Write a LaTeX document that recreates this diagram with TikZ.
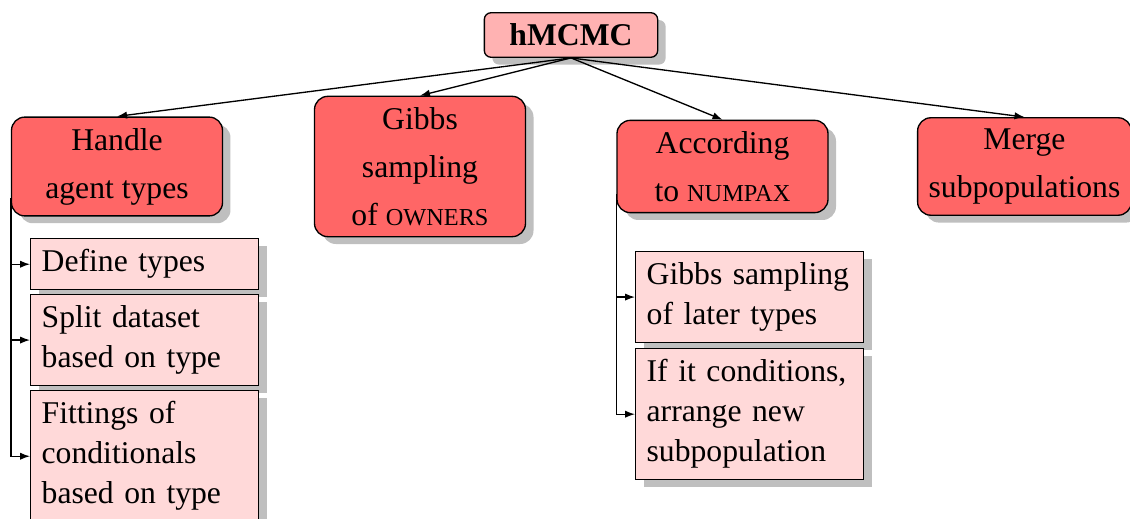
\documentclass[tikz,border=0pt]{standalone}
\usepackage{fontspec}
\setmainfont{Liberation Serif}
\usetikzlibrary{shadows}
\usetikzlibrary{arrows.meta}
\usetikzlibrary{calc,positioning}

\newcommand{\fakecaps}[1]{{\fontsize{7.3}{9}\selectfont #1}}

\begin{document}
\begin{tikzpicture}[x=0.3pt, y=-0.3pt, >={Latex[length=3pt,width=2.2pt]},
    boxshadow/.style={drop shadow={shadow xshift=2.4pt, shadow yshift=-2.2pt, fill=black!25, opacity=1}},
    rootbox/.style={draw, fill=red!30, rounded corners=2pt, boxshadow,
        minimum width=52pt, minimum height=13.2pt, font=\fontsize{9.5}{12}\selectfont\bfseries},
    stagebox/.style={draw, fill=red!60, rounded corners=4pt, boxshadow, align=center,
        minimum width=63.3pt, inner sep=3.3pt, font=\fontsize{9.5}{14.4}\selectfont},
    subbox/.style={draw, fill=red!15, boxshadow, anchor=north west, align=left,
        text width=61.8pt, inner sep=3.3pt, font=\fontsize{9.5}{12}\selectfont}]
    \useasboundingbox (0,0) rectangle (1130,519);

    \node[rootbox] (hmcmc) at (571,35) {hMCMC};

    \node[stagebox] (agents) at (117,166.5) {Handle\\agent types};
    \node[stagebox] (owners) at (420,166.5) {Gibbs\\sampling\\of \fakecaps{OWNERS}};
    \node[stagebox] (numpax) at (722.5,166.5) {According\\to \fakecaps{NUMPAX}};
    \node[stagebox] (merge) at (1024.5,166.5) {Merge\\subpopulations};

    \draw[->] (hmcmc.south) -- (agents.north);
    \draw[->] (hmcmc.south) -- (owners.north);
    \draw[->] (hmcmc.south) -- (numpax.north);
    \draw[->] (hmcmc.south) -- (merge.north);

    % sub-steps
    \node[subbox] (deftypes) at (30,238) {Define types};
    \node[subbox] (split) at (30,294) {Split dataset\\based on type};
    \node[subbox] (fitting) at (30,390) {Fittings of\\conditionals\\based on type};

    \node[subbox] (later) at (635,251) {Gibbs sampling\\of later types};
    \node[subbox] (arrange) at (635,348) {If it conditions,\\arrange new\\subpopulation};

    \coordinate (agentsdrop) at ($(agents.south west)+(0,-19)$);
    \coordinate (numpaxdrop) at ($(numpax.south west)+(0,-19)$);

    \draw[->] (agentsdrop) |- (deftypes.west);
    \draw[->] (agentsdrop) |- (split.west);
    \draw[->] (agentsdrop) |- (fitting.west);

    \draw[->] (numpaxdrop) |- (later.west);
    \draw[->] (numpaxdrop) |- (arrange.west);

\end{tikzpicture}
\end{document}
